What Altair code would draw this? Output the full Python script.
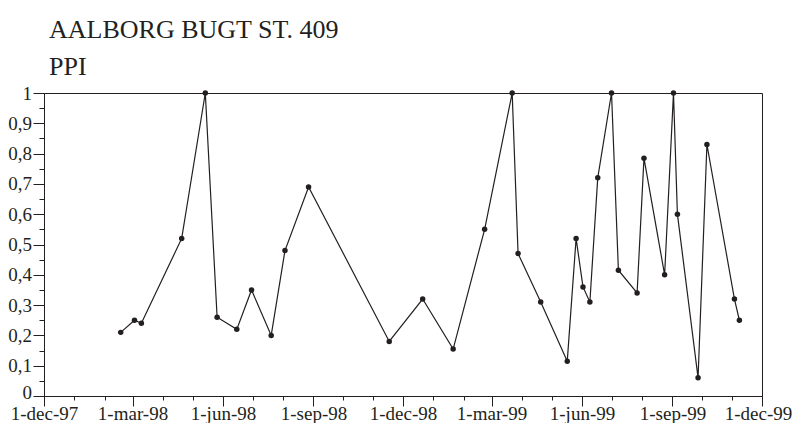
import altair as alt
import pandas as pd

dates = ["1998-02-17", "1998-03-03", "1998-03-10", "1998-04-20", "1998-05-14",
         "1998-05-26", "1998-06-15", "1998-06-30", "1998-07-20", "1998-08-03",
         "1998-08-27", "1998-11-17", "1998-12-21", "1999-01-21", "1999-02-22",
         "1999-03-22", "1999-03-28", "1999-04-20", "1999-05-17", "1999-05-26",
         "1999-06-02", "1999-06-09", "1999-06-17", "1999-07-01", "1999-07-08",
         "1999-07-27", "1999-08-03", "1999-08-24", "1999-09-02", "1999-09-06",
         "1999-09-27", "1999-10-06", "1999-11-03", "1999-11-08"]
ppi = [0.21, 0.25, 0.24, 0.52, 1.0, 0.26, 0.22, 0.35, 0.20, 0.48,
       0.69, 0.18, 0.32, 0.155, 0.55, 1.0, 0.47, 0.31, 0.115, 0.52,
       0.36, 0.31, 0.72, 1.0, 0.415, 0.34, 0.785, 0.40, 1.0, 0.60,
       0.06, 0.83, 0.32, 0.25]

tick_months = [(1997, 12)] + [(1998, m) for m in range(1, 13)] + [(1999, m) for m in range(1, 13)]
y_ticks = [0, 0.05, 0.1, 0.15, 0.2, 0.25, 0.3, 0.35, 0.4, 0.45, 0.5,
           0.55, 0.6, 0.65, 0.7, 0.75, 0.8, 0.85, 0.9, 0.95, 1.0]

title_text = "AALBORG BUGT ST. 409"
subtitle_text = "PPI"

df = pd.DataFrame({"date": dates, "ppi": ppi})

INK = "#231f20"
FONT = "Liberation Serif"

x_vals = [alt.DateTime(year=y, month=m, date=1, utc=True) for y, m in tick_months]

x_enc = alt.X(
    "date:T",
    scale=alt.Scale(type="utc",
                    domain=[alt.DateTime(year=1997, month=12, date=1, utc=True),
                            alt.DateTime(year=1999, month=12, date=1, utc=True)],
                    nice=False),
    axis=alt.Axis(
        title=None,
        values=x_vals,
        labelExpr="utcmonth(datum.value) % 3 == 2 ? '1-' + lower(utcFormat(datum.value, '%b-%y')) : ''",
        tickSize={"condition": {"test": "utcmonth(datum.value) % 3 == 2", "value": 10}, "value": 4},
        labelOffset={"condition": {"test": "utcyear(datum.value) == 1999 && utcmonth(datum.value) == 11", "value": -4}, "value": 0},
        labelOverlap=False,
        labelFlush=False,
        labelPadding=-2,
        labelFont=FONT, labelFontSize=19, labelColor=INK,
        domainColor=INK, tickColor=INK, grid=False,
    ),
)
y_enc = alt.Y(
    "ppi:Q",
    scale=alt.Scale(domain=[0, 1], nice=False),
    axis=alt.Axis(
        title=None,
        values=y_ticks,
        labelExpr="round(datum.value*20) % 2 == 0 ? replace(format(datum.value, '~g'), '.', ',') : ''",
        tickSize={"condition": {"test": "round(datum.value*20) % 2 == 0", "value": 11}, "value": 5},
        labelOffset={"condition": {"test": "datum.value == 0", "value": -3.5}, "value": 0},
        labelOverlap=False,
        labelFlush=False,
        labelPadding=1.5,
        labelFont=FONT, labelFontSize=19, labelColor=INK,
        domainColor=INK, tickColor=INK, grid=False,
    ),
)

base = alt.Chart(df).encode(x=x_enc, y=y_enc)
line = base.mark_line(color=INK, strokeWidth=1.2)
pts = base.mark_circle(color=INK, size=30, opacity=1)

chart = alt.layer(line, pts).properties(
    width=718, height=303,
    title=alt.TitleParams(
        text=title_text, subtitle=subtitle_text,
        anchor="start", frame="group", dx=5, offset=4,
        font=FONT, fontSize=26, fontWeight="normal", color=INK,
        subtitleFont=FONT, subtitleFontSize=26, subtitleColor=INK,
        subtitlePadding=11,
    ),
    autosize=alt.AutoSizeParams(type="none"),
    padding={"left": 36, "top": 85, "right": 31, "bottom": 27},
).configure_view(stroke=INK, strokeWidth=1)

chart.save("out.html", embed_options={"renderer": "svg", "actions": False})
